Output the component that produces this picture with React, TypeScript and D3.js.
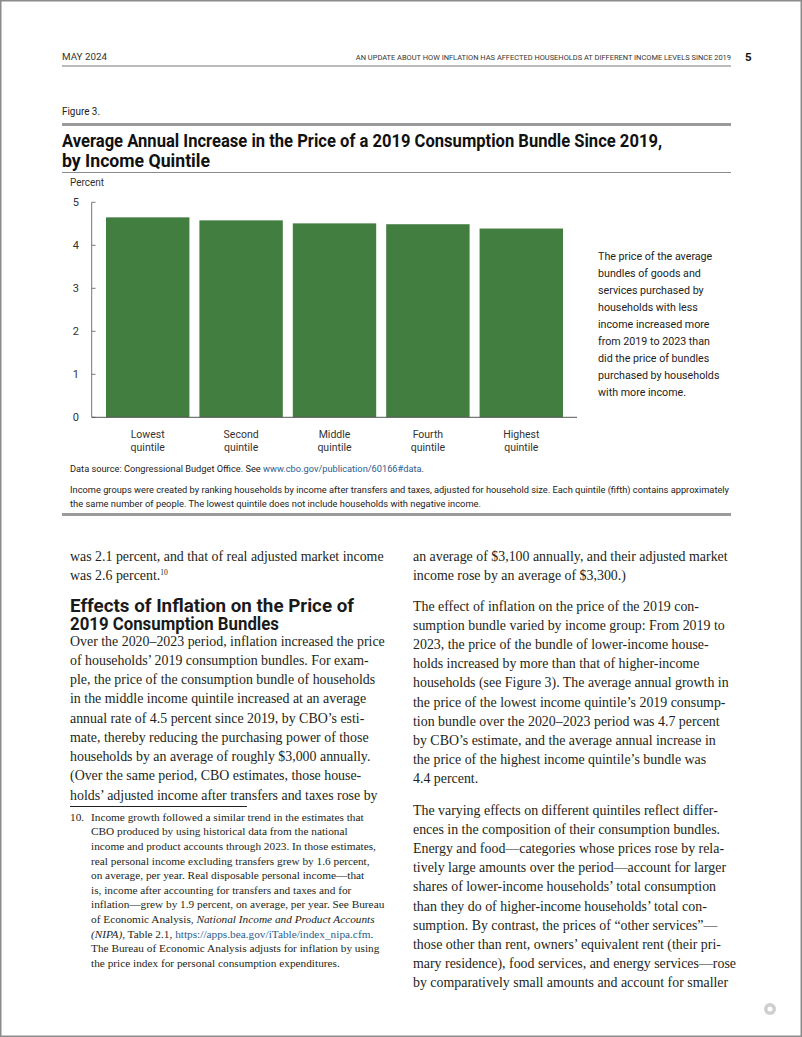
import React from "react";
import * as d3 from "d3";

const categories = ["Lowest", "Second", "Middle", "Fourth", "Highest"];
const values = [4.65, 4.58, 4.51, 4.49, 4.39];
const yTicks = [0, 1, 2, 3, 4, 5];

const headerLeft = "MAY 2024";
const headerRight = "AN UPDATE ABOUT HOW INFLATION HAS AFFECTED HOUSEHOLDS AT DIFFERENT INCOME LEVELS SINCE 2019";
const pageNumber = "5";
const figureLabel = "Figure 3.";
const titleLines = [
  "Average Annual Increase in the Price of a 2019 Consumption Bundle Since 2019,",
  "by Income Quintile",
];
const unitLabel = "Percent";
const annotationLines = [
  "The price of the average",
  "bundles of goods and",
  "services purchased by",
  "households with less",
  "income increased more",
  "from 2019 to 2023 than",
  "did the price of bundles",
  "purchased by households",
  "with more income.",
];
const noteLines = [
  "Income groups were created by ranking households by income after transfers and taxes, adjusted for household size. Each quintile (fifth) contains approximately",
  "the same number of people. The lowest quintile does not include households with negative income.",
];
const leftTop = [
  "was 2.1 percent, and that of real adjusted market income",
];
const headingLines = ["Effects of Inflation on the Price of", "2019 Consumption Bundles"];
const leftBody = [
  "Over the 2020\u20132023 period, inflation increased the price",
  "of households\u2019 2019 consumption bundles. For exam-",
  "ple, the price of the consumption bundle of households",
  "in the middle income quintile increased at an average",
  "annual rate of 4.5 percent since 2019, by CBO\u2019s esti-",
  "mate, thereby reducing the purchasing power of those",
  "households by an average of roughly $3,000 annually.",
  "(Over the same period, CBO estimates, those house-",
  "holds\u2019 adjusted income after transfers and taxes rose by",
];
const rightTop = [
  "an average of $3,100 annually, and their adjusted market",
  "income rose by an average of $3,300.)",
];
const rightPara1 = [
  "The effect of inflation on the price of the 2019 con-",
  "sumption bundle varied by income group: From 2019 to",
  "2023, the price of the bundle of lower-income house-",
  "holds increased by more than that of higher-income",
  "households (see Figure 3). The average annual growth in",
  "the price of the lowest income quintile\u2019s 2019 consump-",
  "tion bundle over the 2020\u20132023 period was 4.7 percent",
  "by CBO\u2019s estimate, and the average annual increase in",
  "the price of the highest income quintile\u2019s bundle was",
  "4.4 percent.",
];
const rightPara2 = [
  "The varying effects on different quintiles reflect differ-",
  "ences in the composition of their consumption bundles.",
  "Energy and food\u2014categories whose prices rose by rela-",
  "tively large amounts over the period\u2014account for larger",
  "shares of lower-income households\u2019 total consumption",
  "than they do of higher-income households\u2019 total con-",
  "sumption. By contrast, the prices of \u201cother services\u201d\u2014",
  "those other than rent, owners\u2019 equivalent rent (their pri-",
  "mary residence), food services, and energy services\u2014rose",
  "by comparatively small amounts and account for smaller",
];
const footnoteLines = [
  "Income growth followed a similar trend in the estimates that",
  "CBO produced by using historical data from the national",
  "income and product accounts through 2023. In those estimates,",
  "real personal income excluding transfers grew by 1.6 percent,",
  "on average, per year. Real disposable personal income\u2014that",
  "is, income after accounting for transfers and taxes and for",
  "inflation\u2014grew by 1.9 percent, on average, per year. See Bureau",
];

const SANS = "Roboto, 'Open Sans', sans-serif";
const SERIF = "'Liberation Serif', 'Times New Roman', serif";
const TEXT = "#231f20";
const LINK = "#2a5d8f";

export default function App() {
  const W = 802;
  const H = 1037;
  const x = d3
    .scaleBand<string>()
    .domain(categories)
    .range([92, 577])
    .paddingInner(0.107)
    .paddingOuter(0.15);
  const y = d3.scaleLinear().domain([0, 5]).range([417.3, 202.3]);
  const green = "#417e40";

  const bodySize = 13.9;
  const bodyStep = 19.25;
  const fnSize = 11.3;

  return (
    <svg
      width={W}
      height={H}
      viewBox={`0 0 ${W} ${H}`}
      style={{ position: "absolute", left: 0, top: 0, background: "#fff" }}
    >
      <rect x={0.75} y={0.75} width={W - 1.5} height={H - 1.5} fill="#fff" stroke="#8c8c8c" strokeWidth={1.5} />

      {/* header */}
      <text x={62} y={60} fontFamily={SANS} fontSize={8.5} fill="#333" textLength={45} lengthAdjust="spacingAndGlyphs">
        {headerLeft}
      </text>
      <g transform="translate(731,60) scale(0.8,1)">
        <text x={0} y={0} fontFamily={SANS} fontSize={8} fill="#333" textAnchor="end" textLength={469} lengthAdjust="spacingAndGlyphs">
          {headerRight}
        </text>
      </g>
      <text x={745} y={61} fontFamily={SANS} fontSize={11.5} fontWeight={700} fill="#111">
        {pageNumber}
      </text>
      <line x1={62} x2={731} y1={66} y2={66} stroke="#777" strokeWidth={1} />

      {/* figure header */}
      <text x={62} y={115} fontFamily={SANS} fontSize={11} fill="#222" textLength={38} lengthAdjust="spacingAndGlyphs">
        {figureLabel}
      </text>
      <line x1={62} x2={731} y1={124.5} y2={124.5} stroke="#9a9a9a" strokeWidth={3} />
      <text x={62} y={147} fontFamily={SANS} fontSize={17.5} fontWeight={700} fill="#111" textLength={600} lengthAdjust="spacingAndGlyphs">
        {titleLines[0]}
      </text>
      <text x={62} y={167} fontFamily={SANS} fontSize={17.5} fontWeight={700} fill="#111" textLength={148} lengthAdjust="spacingAndGlyphs">
        {titleLines[1]}
      </text>
      <line x1={62} x2={731} y1={172.5} y2={172.5} stroke="#8a8a8a" strokeWidth={1} />
      <text x={70} y={186} fontFamily={SANS} fontSize={10} fill="#333" textLength={34} lengthAdjust="spacingAndGlyphs">
        {unitLabel}
      </text>

      {/* y axis */}
      <line x1={91.7} x2={91.7} y1={y(5)} y2={y(0)} stroke="#777" strokeWidth={1} />
      {yTicks.map((t) => (
        <g key={t}>
          <line x1={91.7} x2={95.5} y1={y(t)} y2={y(t)} stroke="#777" strokeWidth={1} />
          <text x={79} y={y(t) + 4} fontFamily={SANS} fontSize={11} fill="#333" textAnchor="end">
            {t}
          </text>
        </g>
      ))}

      {/* bars */}
      {categories.map((c, i) => (
        <rect key={c} x={x(c)} y={y(values[i])} width={x.bandwidth()} height={y(0) - y(values[i])} fill={green} />
      ))}
      <line x1={91.7} x2={577} y1={y(0)} y2={y(0)} stroke="#555" strokeWidth={1} />

      {/* x labels */}
      {categories.map((c) => (
        <g key={c}>
          <text x={(x(c) as number) + x.bandwidth() / 2} y={438} fontFamily={SANS} fontSize={10.5} fill="#333" textAnchor="middle">
            {c}
          </text>
          <text x={(x(c) as number) + x.bandwidth() / 2} y={451} fontFamily={SANS} fontSize={10.5} fill="#333" textAnchor="middle">
            quintile
          </text>
        </g>
      ))}

      {/* annotation */}
      {annotationLines.map((l, i) => (
        <text key={i} x={598} y={259.5 + i * 17.1} fontFamily={SANS} fontSize={10.7} fill="#222">
          {l}
        </text>
      ))}

      {/* source and notes */}
      <text x={70} y={472} fontFamily={SANS} fontSize={9} fill="#222" textLength={354} lengthAdjust="spacingAndGlyphs">
        Data source: Congressional Budget Office. See <tspan fill={LINK}>www.cbo.gov/publication/60166#data</tspan>.
      </text>
      <text x={70} y={493} fontFamily={SANS} fontSize={9} fill="#222" textLength={659} lengthAdjust="spacingAndGlyphs">
        {noteLines[0]}
      </text>
      <text x={70} y={506.5} fontFamily={SANS} fontSize={9} fill="#222" textLength={411} lengthAdjust="spacingAndGlyphs">
        {noteLines[1]}
      </text>
      <line x1={62} x2={731} y1={514.5} y2={514.5} stroke="#9a9a9a" strokeWidth={3} />

      {/* left column */}
      <text x={70} y={560.5} fontFamily={SERIF} fontSize={bodySize} fill={TEXT}>
        {leftTop[0]}
      </text>
      <text x={70} y={579.7} fontFamily={SERIF} fontSize={bodySize} fill={TEXT}>
        was 2.6 percent.<tspan fontSize={7.5} dy={-5}>10</tspan>
      </text>
      {headingLines.map((l, i) => (
        <text key={i} x={70} y={611.5 + i * 18} fontFamily={SANS} fontSize={17.5} fontWeight={700} fill="#1a1a1a" textLength={i === 0 ? 284 : 209} lengthAdjust="spacingAndGlyphs">
          {l}
        </text>
      ))}
      {leftBody.map((l, i) => (
        <text key={i} x={70} y={645.5 + i * bodyStep} fontFamily={SERIF} fontSize={bodySize} fill={TEXT}>
          {l}
        </text>
      ))}

      {/* footnote */}
      <line x1={70} x2={247} y1={806.5} y2={806.5} stroke="#222" strokeWidth={1} />
      <text x={70} y={820.8} fontFamily={SERIF} fontSize={fnSize} fill={TEXT}>
        10.
      </text>
      {footnoteLines.map((l, i) => (
        <text key={i} x={91} y={820.8 + i * 14.6} fontFamily={SERIF} fontSize={fnSize} fill={TEXT}>
          {l}
        </text>
      ))}
      <text x={91} y={820.8 + 7 * 14.6} fontFamily={SERIF} fontSize={fnSize} fill={TEXT}>
        of Economic Analysis, <tspan fontStyle="italic">National Income and Product Accounts</tspan>
      </text>
      <text x={91} y={820.8 + 8 * 14.6} fontFamily={SERIF} fontSize={fnSize} fill={TEXT}>
        <tspan fontStyle="italic">(NIPA)</tspan>, Table 2.1, <tspan fill={LINK}>https://apps.bea.gov/iTable/index_nipa.cfm</tspan>.
      </text>
      <text x={91} y={820.8 + 9 * 14.6} fontFamily={SERIF} fontSize={fnSize} fill={TEXT}>
        The Bureau of Economic Analysis adjusts for inflation by using
      </text>
      <text x={91} y={820.8 + 10 * 14.6} fontFamily={SERIF} fontSize={fnSize} fill={TEXT}>
        the price index for personal consumption expenditures.
      </text>

      {/* right column */}
      {rightTop.map((l, i) => (
        <text key={i} x={413} y={560.5 + i * 19.2} fontFamily={SERIF} fontSize={bodySize} fill={TEXT}>
          {l}
        </text>
      ))}
      {rightPara1.map((l, i) => (
        <text key={i} x={413} y={610.5 + i * 19.2} fontFamily={SERIF} fontSize={bodySize} fill={TEXT}>
          {l}
        </text>
      ))}
      {rightPara2.map((l, i) => (
        <text key={i} x={413} y={814.5 + i * 19.2} fontFamily={SERIF} fontSize={bodySize} fill={TEXT}>
          {l}
        </text>
      ))}

      {/* page icon */}
      <circle cx={770} cy={1009} r={6} fill="#cfcfcf" />
      <circle cx={770} cy={1009} r={2.5} fill="#fff" />
    </svg>
  );
}
